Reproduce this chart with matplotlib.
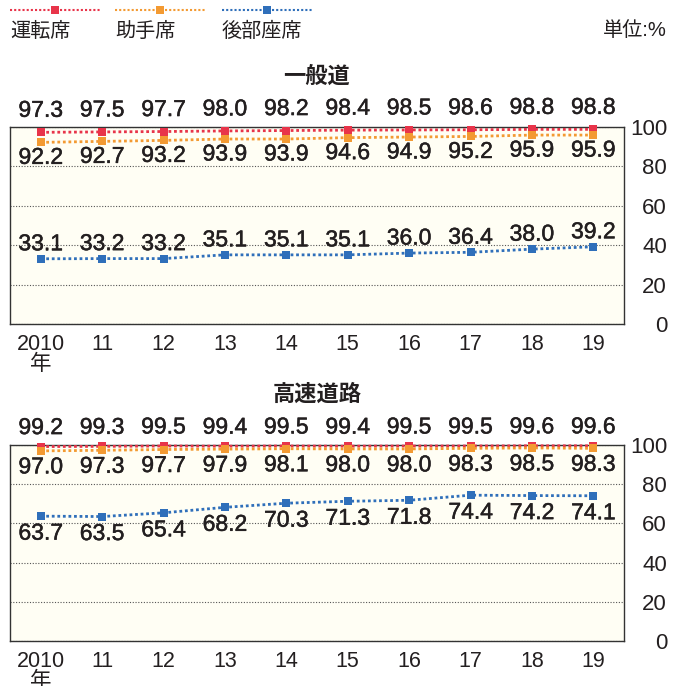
import matplotlib.pyplot as plt
import matplotlib.patheffects as pe
from matplotlib.lines import Line2D

plt.rcParams['font.family'] = ['Liberation Sans', 'Noto Sans CJK JP', 'DejaVu Sans']

years = ["2010\n年", "11", "12", "13", "14", "15", "16", "17", "18", "19"]
series_names = ["運転席", "助手席", "後部座席"]

# 一般道
general_driver = [97.3, 97.5, 97.7, 98.0, 98.2, 98.4, 98.5, 98.6, 98.8, 98.8]
general_passenger = [92.2, 92.7, 93.2, 93.9, 93.9, 94.6, 94.9, 95.2, 95.9, 95.9]
general_rear = [33.1, 33.2, 33.2, 35.1, 35.1, 35.1, 36.0, 36.4, 38.0, 39.2]

# 高速道路
highway_driver = [99.2, 99.3, 99.5, 99.4, 99.5, 99.4, 99.5, 99.5, 99.6, 99.6]
highway_passenger = [97.0, 97.3, 97.7, 97.9, 98.1, 98.0, 98.0, 98.3, 98.5, 98.3]
highway_rear = [63.7, 63.5, 65.4, 68.2, 70.3, 71.3, 71.8, 74.4, 74.2, 74.1]

colors = ["#e8344a", "#f39a32", "#2f6fba"]
ink = "#231f20"
W, H = 681, 686

fig = plt.figure(figsize=(W / 100, H / 100), dpi=100)
thick = [pe.withStroke(linewidth=0.35, foreground=ink)]


def draw_panel(top, bottom, title, values, offsets):
    ax = fig.add_axes([10 / W, (H - bottom) / H, 614 / W, (bottom - top) / H])
    ax.set_facecolor("#fffef4")
    x = range(len(years))
    for vals, c, off in zip(values, colors, offsets):
        ax.plot(x, vals, color=c, linestyle=(0, (1, 1)), linewidth=2,
                marker="s", markersize=6, markeredgewidth=0, clip_on=False, zorder=3)
        for i, v in enumerate(vals):
            ax.annotate(f"{v:.1f}", (i, v), xytext=(0, off), textcoords="offset pixels",
                        ha="center", va="center", fontsize=16.5, color=ink,
                        annotation_clip=False, zorder=4, path_effects=thick)
    ax.set_xlim(-0.5, 9.5)
    ax.set_ylim(0, 100)
    ax.set_yticks([0, 20, 40, 60, 80, 100])
    ax.set_xticks(list(x))
    ax.set_xticklabels(years, fontsize=15.5, color=ink, linespacing=0.95, va="top")
    ax.yaxis.tick_right()
    ax.tick_params(axis="y", length=0, pad=31, labelsize=16, labelcolor=ink)
    ax.tick_params(axis="x", length=0, pad=7)
    for lab in ax.get_yticklabels():
        lab.set_horizontalalignment("right")
    ax.grid(axis="y", linestyle=(0, (1, 1.5)), color="#555555", linewidth=0.8)
    ax.set_axisbelow(True)
    for s in ax.spines.values():
        s.set_color("#333333")
        s.set_linewidth(1)
    fig.text(317 / W, 1 - (top - 50) / H, title, ha="center", va="center",
             fontsize=16, fontweight="bold", color=ink)
    return ax


draw_panel(127, 324, "一般道", [general_driver, general_passenger, general_rear], [22, -15, 15])
draw_panel(445, 641, "高速道路", [highway_driver, highway_passenger, highway_rear], [19, -16, -17])

# legend
leg_x = [(10, 100), (115, 205), (222, 312)]
for (x0, x1), c, name in zip(leg_x, colors, series_names):
    fig.add_artist(Line2D([x0 / W, x1 / W], [1 - 10 / H, 1 - 10 / H], color=c,
                          linestyle=(0, (1, 1)), linewidth=1.5))
    fig.add_artist(Line2D([(x0 + x1) / 2 / W], [1 - 10 / H], color=c, marker="s",
                          markersize=5.5, markeredgewidth=0))
    fig.text(x0 / W, 1 - 31 / H, name, ha="left", va="center", fontsize=14.5, color=ink)

fig.text(667 / W, 1 - 31 / H, "単位:%", ha="right", va="center", fontsize=14.5, color=ink)

fig.savefig("out.png", dpi=100)
